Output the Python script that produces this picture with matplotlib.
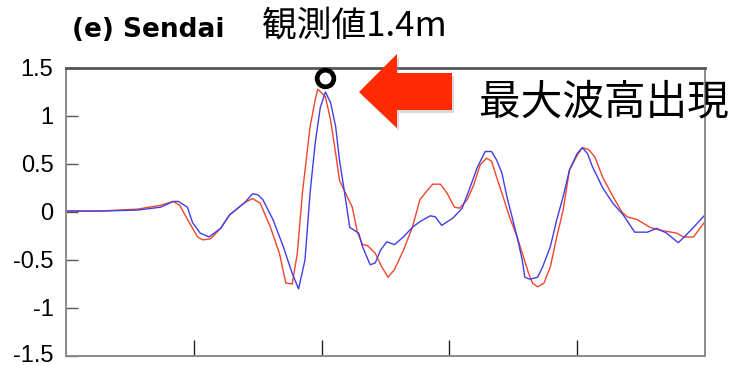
import matplotlib
matplotlib.use("Agg")
import matplotlib.pyplot as plt
from matplotlib.patches import Polygon
from matplotlib.transforms import Affine2D, ScaledTranslation

# wave height records (m) against time
red_t = [0.0, 0.27, 0.56, 0.74, 0.84, 0.89, 0.96, 1.03, 1.07, 1.13, 1.21, 1.28, 1.40, 1.46, 1.52,
         1.60, 1.67, 1.72, 1.77, 1.81, 1.85, 1.91, 1.95, 1.97, 2.03, 2.07, 2.11, 2.14, 2.20, 2.24,
         2.28, 2.32, 2.36, 2.42, 2.47, 2.52, 2.57, 2.64, 2.71, 2.77, 2.83, 2.87, 2.93, 2.98, 3.04,
         3.08, 3.14, 3.19, 3.24, 3.29, 3.33, 3.37, 3.42, 3.47, 3.53, 3.58, 3.62, 3.65, 3.69, 3.74,
         3.79, 3.84, 3.89, 3.94, 4.00, 4.04, 4.09, 4.14, 4.20, 4.28, 4.35, 4.39, 4.47, 4.57, 4.65,
         4.78, 4.83, 4.91, 5.00]
red_h = [0.01, 0.01, 0.03, 0.07, 0.11, 0.07, -0.10, -0.26, -0.29, -0.28, -0.17, -0.03, 0.10, 0.14, 0.09,
         -0.16, -0.43, -0.74, -0.75, -0.43, 0.20, 0.89, 1.17, 1.28, 1.20, 0.96, 0.61, 0.33, 0.16, 0.05,
         -0.21, -0.34, -0.35, -0.43, -0.57, -0.68, -0.60, -0.40, -0.16, 0.13, 0.23, 0.29, 0.29, 0.20, 0.05,
         0.04, 0.13, 0.28, 0.49, 0.56, 0.53, 0.36, 0.16, -0.05, -0.26, -0.47, -0.64, -0.74, -0.78, -0.74,
         -0.57, -0.26, 0.02, 0.44, 0.59, 0.67, 0.65, 0.57, 0.36, 0.16, 0.0, -0.05, -0.08, -0.16, -0.19,
         -0.22, -0.26, -0.26, -0.10]

blue_t = [0.0, 0.27, 0.56, 0.74, 0.84, 0.88, 0.95, 0.99, 1.05, 1.12, 1.21, 1.28, 1.40, 1.46, 1.50,
          1.54, 1.62, 1.70, 1.77, 1.82, 1.87, 1.91, 1.95, 1.99, 2.03, 2.07, 2.11, 2.14, 2.18, 2.22,
          2.29, 2.32, 2.38, 2.42, 2.46, 2.51, 2.57, 2.64, 2.71, 2.77, 2.85, 2.89, 2.94, 3.03, 3.10,
          3.16, 3.22, 3.28, 3.33, 3.37, 3.41, 3.45, 3.49, 3.53, 3.57, 3.59, 3.63, 3.69, 3.73, 3.79,
          3.84, 3.89, 3.94, 4.00, 4.04, 4.08, 4.12, 4.20, 4.28, 4.36, 4.45, 4.55, 4.62, 4.70, 4.79,
          4.83, 4.91, 5.00]
blue_h = [0.01, 0.01, 0.02, 0.05, 0.11, 0.11, 0.05, -0.11, -0.22, -0.26, -0.17, -0.03, 0.10, 0.19, 0.18,
          0.13, -0.08, -0.36, -0.64, -0.80, -0.50, 0.20, 0.72, 1.09, 1.25, 1.14, 0.89, 0.54, 0.20, -0.16,
          -0.22, -0.36, -0.55, -0.53, -0.40, -0.31, -0.34, -0.26, -0.16, -0.10, -0.04, -0.05, -0.14, -0.06, 0.04,
          0.25, 0.47, 0.63, 0.63, 0.54, 0.41, 0.16, -0.05, -0.26, -0.50, -0.68, -0.70, -0.68, -0.57, -0.36,
          -0.08, 0.16, 0.44, 0.61, 0.67, 0.61, 0.47, 0.25, 0.09, -0.03, -0.21, -0.21, -0.17, -0.22, -0.32,
          -0.27, -0.16, -0.03]

obs_t = [2.03]
obs_h = [1.4]

y_ticks = [-1.5, -1, -0.5, 0, 0.5, 1, 1.5]
y_labels = ["-1.5", "-1", "-0.5", "0", "0.5", "1", "1.5"]
x_ticks = [1, 2, 3, 4]

W, H = 735, 366
fig = plt.figure(figsize=(W / 100, H / 100), dpi=100)
ax = fig.add_axes([66 / W, 10 / H, 639 / W, 288 / H])

ax.plot(red_t, red_h, color="#f0452c", lw=1.0)
ax.plot(blue_t, blue_h, color="#3f3fe6", lw=1.0)
ax.plot(obs_t, obs_h, "o", ms=12, mfc="none", mec="black", mew=3.4, clip_on=False, zorder=5)

ax.set_xlim(0, 5)
ax.set_ylim(-1.5, 1.5)
ax.set_xticks(x_ticks)
ax.set_xticklabels([])
ax.set_yticks(y_ticks)
ax.set_yticklabels(y_labels, family="Liberation Sans", fontsize=17)
ax.tick_params(axis="y", direction="in", length=8.5, width=1.0, color="#555555", pad=9)
ax.tick_params(axis="x", direction="in", length=11.5, width=1.0, color="#222222")

# lift the bottom label a little so it stays inside the figure
low = ax.get_yticklabels()[0]
low.set_transform(low.get_transform() + ScaledTranslation(0, 3 / 100, fig.dpi_scale_trans))

for name, sp in ax.spines.items():
    sp.set_color("#8a8a8a")
    sp.set_linewidth(1.4)
ax.spines["top"].set_color("#555555")
ax.spines["top"].set_linewidth(2.0)

fig.text(72 / W, 1 - 30 / H, "(e) Sendai", fontsize=19, fontweight="bold",
         family="DejaVu Sans", ha="left", va="center")
fig.text(262 / W, 1 - 26 / H, "観測値1.4m", fontsize=25,
         family=["Noto Sans CJK JP", "DejaVu Sans"], ha="left", va="center")
fig.text(479 / W, 1 - 103 / H, "最大波高出現", fontsize=30,
         family=["Noto Sans CJK JP", "DejaVu Sans"], ha="left", va="center")

# big red arrow pointing at the peak, laid out in pixels from the top-left corner
px = Affine2D().scale(1 / W, -1 / H).translate(0, 1) + fig.transFigure
arrow_pts = [(359, 92), (397, 54), (397, 73), (452, 73), (452, 110), (397, 110), (397, 128)]
shadow = Polygon([(x + 2, y + 3) for x, y in arrow_pts], closed=True, transform=px,
                 facecolor="#999999", edgecolor="none", alpha=0.35, zorder=9)
arrow = Polygon(arrow_pts, closed=True, transform=px,
                facecolor="#ff2a00", edgecolor="none", zorder=10)
fig.patches.extend([shadow, arrow])

fig.savefig("out.png", dpi=100)
